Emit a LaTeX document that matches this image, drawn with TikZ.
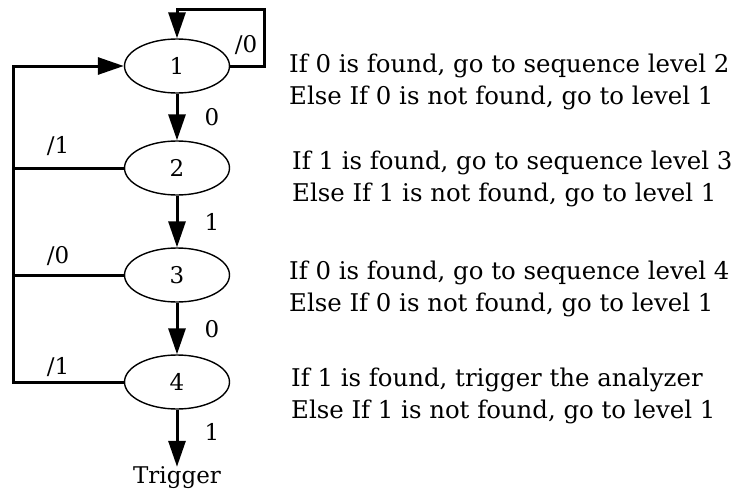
\documentclass[tikz,border=0pt]{standalone}
\usepackage{fontspec}
\setmainfont{DejaVu Serif}
\usetikzlibrary{arrows.meta,shapes.geometric}
\begin{document}
\begin{tikzpicture}[x=1pt,y=-1pt,
  state/.style={draw,ellipse,line width=1.4pt,minimum width=105pt,minimum height=54pt,inner sep=0pt,font=\fontsize{23}{26}\selectfont},
  conn/.style={line width=3pt},
  arr/.style={conn,-{Triangle[length=26pt,width=17pt]}},
  lbl/.style={font=\fontsize{23}{26}\selectfont,inner sep=0pt},
  desc/.style={font=\fontsize{24.4}{32}\selectfont,align=left,anchor=west,inner sep=0pt}]
\useasboundingbox (0,0) rectangle (742,493);
\node[state] (n1) at (177,66) {1};
\node[state] (n2) at (177,168) {2};
\node[state] (n3) at (177,275) {3};
\node[state] (n4) at (177,382) {4};
\node[lbl] (trig) at (177,478) {Trigger};
\coordinate (L1) at (13,66);
\coordinate (L4) at (13,382);
\coordinate (S1) at (264,66);
\coordinate (S2) at (264,9);
\coordinate (S3) at (177,9);
\draw[arr] (n1) -- (n2);
\draw[arr] (n2) -- (n3);
\draw[arr] (n3) -- (n4);
\draw[arr] (n4) -- (trig);
\draw[arr] (n4.west) -- (L4) -- (L1) -- (n1.west);
\draw[conn] (n2.west) -- (n2.west -| L1);
\draw[conn] (n3.west) -- (n3.west -| L1);
\draw[arr] (n1.east) -- (S1) -- (S2) -- (S3) -- (n1.north);
\node[lbl] (l10) at (246,45) {/0};
\node[lbl] (l12) at (212,117) {0};
\node[lbl] (l23) at (212,222) {1};
\node[lbl] (l34) at (212,329) {0};
\node[lbl] (l4t) at (212,432) {1};
\node[lbl] (f2) at (58,146) {/1};
\node[lbl] (f3) at (58,256) {/0};
\node[lbl] (f4) at (58,367) {/1};
\node[desc] (d1) at (289,82) {If 0 is found, go to sequence level 2\\Else If 0 is not found, go to level 1};
\node[desc] (d2) at (292,179) {If 1 is found, go to sequence level 3\\Else If 1 is not found, go to level 1};
\node[desc] (d3) at (289,289) {If 0 is found, go to sequence level 4\\Else If 0 is not found, go to level 1};
\node[desc] (d4) at (291,396) {If 1 is found, trigger the analyzer\\Else If 1 is not found, go to level 1};
\end{tikzpicture}
\end{document}
